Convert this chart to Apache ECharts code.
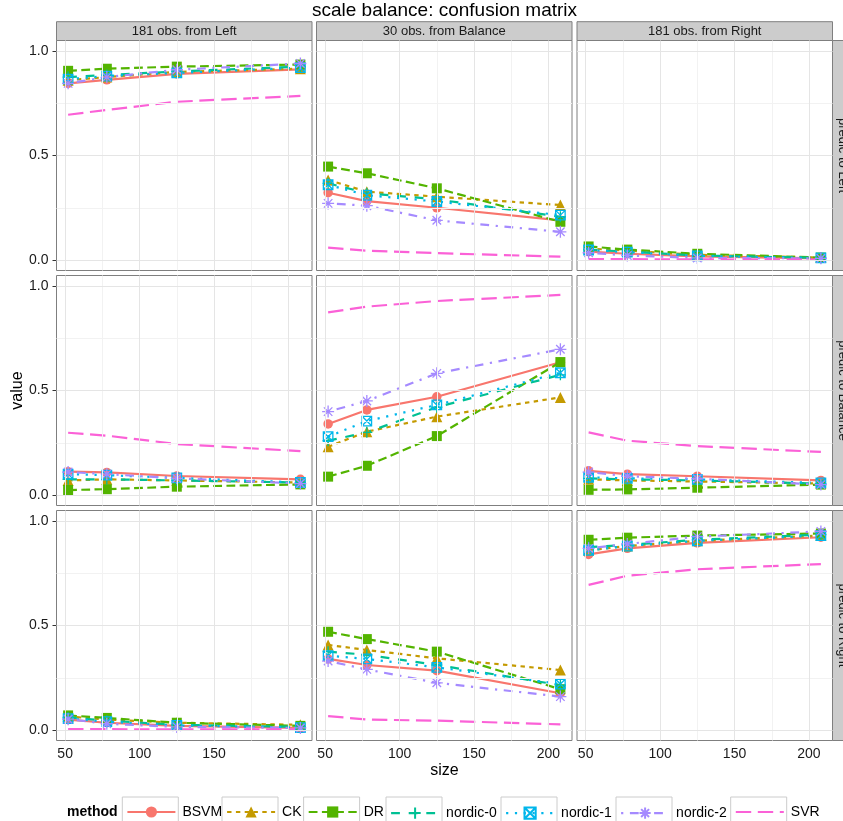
<!DOCTYPE html>
<html><head><meta charset="utf-8">
<script src="https://cdn.jsdelivr.net/npm/echarts@6/dist/echarts.min.js"></script>
<style>html,body{margin:0;padding:0;background:#fff}#c{width:843px;height:821px}</style>
</head><body><div id="c"></div>
<script>
// ---------- data ----------
const sizes = [52, 78, 125, 208];
const methods = ['BSVM', 'CK', 'DR', 'nordic-0', 'nordic-1', 'nordic-2', 'SVR'];
const colTitles = ['181 obs. from Left', '30 obs. from Balance', '181 obs. from Right'];
const rowTitles = ['predic to Left', 'predic to Balance', 'predic to Right'];
const xTicks = [50, 100, 150, 200];
const xMinor = [75, 125, 175];
const yTicks = [0, 0.5, 1];
const yMinor = [0.25, 0.75];

// rows of each array follow `methods` order; columns follow `sizes`
const leftFromLeft = [
  [0.845, 0.862, 0.890, 0.912],
  [0.860, 0.875, 0.900, 0.915],
  [0.905, 0.915, 0.925, 0.935],
  [0.875, 0.885, 0.902, 0.925],
  [0.865, 0.880, 0.895, 0.920],
  [0.845, 0.875, 0.910, 0.940],
  [0.695, 0.718, 0.757, 0.785]
];
const leftFromBalance = [
  [0.322, 0.282, 0.250, 0.190],
  [0.383, 0.327, 0.303, 0.263],
  [0.447, 0.415, 0.343, 0.183],
  [0.367, 0.320, 0.290, 0.207],
  [0.360, 0.310, 0.280, 0.215],
  [0.271, 0.260, 0.190, 0.135],
  [0.059, 0.045, 0.033, 0.016]
];
const leftFromRight = [
  [0.040, 0.030, 0.018, 0.008],
  [0.055, 0.045, 0.025, 0.012],
  [0.065, 0.050, 0.030, 0.012],
  [0.050, 0.040, 0.022, 0.010],
  [0.048, 0.038, 0.020, 0.010],
  [0.035, 0.022, 0.010, 0.008],
  [0.004, 0.004, 0.003, 0.002]
];
const balanceFromLeft = [
  [0.112, 0.108, 0.091, 0.075],
  [0.070, 0.075, 0.070, 0.060],
  [0.024, 0.028, 0.040, 0.051],
  [0.075, 0.075, 0.070, 0.060],
  [0.100, 0.095, 0.082, 0.060],
  [0.110, 0.100, 0.080, 0.055],
  [0.298, 0.284, 0.244, 0.210]
];
const balanceFromBalance = [
  [0.340, 0.407, 0.470, 0.635],
  [0.231, 0.303, 0.375, 0.467],
  [0.088, 0.140, 0.282, 0.636],
  [0.260, 0.300, 0.420, 0.575],
  [0.279, 0.354, 0.431, 0.585],
  [0.399, 0.450, 0.582, 0.697],
  [0.874, 0.901, 0.928, 0.957]
];
const balanceFromRight = [
  [0.116, 0.100, 0.090, 0.070],
  [0.075, 0.070, 0.065, 0.055],
  [0.025, 0.027, 0.035, 0.050],
  [0.080, 0.075, 0.070, 0.055],
  [0.085, 0.080, 0.075, 0.058],
  [0.110, 0.090, 0.078, 0.050],
  [0.300, 0.260, 0.234, 0.206]
];
const rightFromLeft = [
  [0.050, 0.035, 0.020, 0.010],
  [0.065, 0.050, 0.035, 0.025],
  [0.070, 0.058, 0.035, 0.020],
  [0.060, 0.045, 0.025, 0.015],
  [0.055, 0.040, 0.022, 0.012],
  [0.052, 0.030, 0.015, 0.010],
  [0.005, 0.004, 0.003, 0.003]
];
const rightFromBalance = [
  [0.340, 0.311, 0.284, 0.176],
  [0.407, 0.383, 0.343, 0.287],
  [0.470, 0.435, 0.375, 0.195],
  [0.375, 0.360, 0.311, 0.215],
  [0.356, 0.340, 0.300, 0.220],
  [0.330, 0.290, 0.226, 0.160],
  [0.067, 0.050, 0.045, 0.027]
];
const rightFromRight = [
  [0.840, 0.869, 0.895, 0.922],
  [0.860, 0.880, 0.905, 0.930],
  [0.910, 0.920, 0.930, 0.940],
  [0.875, 0.885, 0.910, 0.935],
  [0.860, 0.880, 0.905, 0.930],
  [0.869, 0.890, 0.925, 0.950],
  [0.694, 0.738, 0.769, 0.794]
];
const panels = [
  [leftFromLeft, leftFromBalance, leftFromRight],
  [balanceFromLeft, balanceFromBalance, balanceFromRight],
  [rightFromLeft, rightFromBalance, rightFromRight]
];

// ---------- styles ----------
const FONT = "'Liberation Sans', Arial, Helvetica, sans-serif";
const colors = ['#F8766D', '#C49A00', '#53B400', '#00C094', '#00B6EB', '#A58AFF', '#FB61D7'];
const LW = 2.2;
const dashes = ['solid', [4.4, 4.4], [8.8, 4.4], [8.8, 8.8], [2.2, 6.6], [2.2, 6.6, 8.8, 6.6], [15.4, 6.6]];
const symbols = ['circle', 'triangle', 'rect',
  'path://M5,0L5,10M0,5L10,5',
  'path://M0,0L10,0L10,10L0,10ZM0,0L10,10M10,0L0,10',
  'path://M5,0L5,10M0,5L10,5M1.46,1.46L8.54,8.54M8.54,1.46L1.46,8.54',
  'none'];
const symbolSizes = [9.5, 11, 10, 11, 9.5, 12, 0];
const filled = [true, true, true, false, false, false, true];

const L = [56.5, 316.5, 577], T = [40.5, 275.5, 510.5], W = 255.5, H = 230;
const XMIN = 44.2, XMAX = 215.8, YMIN = -0.05, YMAX = 1.05;

const grids = [], xAxes = [], yAxes = [], series = [];
for (let r = 0; r < 3; r++) {
  for (let c = 0; c < 3; c++) {
    const i = r * 3 + c;
    grids.push({left: L[c], top: T[r], width: W, height: H, show: true,
      backgroundColor: '#fff', borderColor: '#7F7F7F', borderWidth: 1,
      containLabel: false, outerBoundsMode: 'none'});
    const bottom = r === 2, leftCol = c === 0;
    xAxes.push({type: 'value', gridIndex: i, min: XMIN, max: XMAX,
      axisLine: {show: false}, splitLine: {show: false},
      axisTick: {show: bottom, customValues: xTicks, length: 4, lineStyle: {color: '#333', width: 1}},
      axisLabel: {show: bottom, customValues: xTicks, margin: 7, fontSize: 14, color: '#1a1a1a', fontFamily: FONT}});
    yAxes.push({type: 'value', gridIndex: i, min: YMIN, max: YMAX,
      axisLine: {show: false}, splitLine: {show: false},
      axisTick: {show: leftCol, customValues: yTicks, length: 4, lineStyle: {color: '#333', width: 1}},
      axisLabel: {show: leftCol, customValues: yTicks, margin: 8, fontSize: 14, color: '#1a1a1a', fontFamily: FONT,
        formatter: v => v.toFixed(1)}});
    // grid lines via markLine on an empty helper series
    const ml = [];
    xMinor.forEach(v => ml.push({xAxis: v, lineStyle: {color: '#F2F2F2', width: 1, type: 'solid'}}));
    yMinor.forEach(v => ml.push({yAxis: v, lineStyle: {color: '#F2F2F2', width: 1, type: 'solid'}}));
    xTicks.forEach(v => ml.push({xAxis: v, lineStyle: {color: '#E5E5E5', width: 1, type: 'solid'}}));
    yTicks.forEach(v => ml.push({yAxis: v, lineStyle: {color: '#E5E5E5', width: 1, type: 'solid'}}));
    series.push({type: 'line', name: '__grid' + i, xAxisIndex: i, yAxisIndex: i, data: [], silent: true,
      animation: false, z: 1,
      markLine: {silent: true, symbol: ['none', 'none'], label: {show: false}, animation: false, data: ml}});
    const tbl = panels[r][c];
    methods.forEach((m, k) => {
      series.push({
        type: 'line', name: m, xAxisIndex: i, yAxisIndex: i,
        data: sizes.map((s, j) => [s, tbl[k][j]]),
        symbol: symbols[k], symbolSize: symbolSizes[k], showSymbol: symbols[k] !== 'none',
        lineStyle: {color: colors[k], width: LW, type: dashes[k], cap: 'butt'},
        itemStyle: filled[k] ? {color: colors[k]} : {color: 'none', borderColor: colors[k], borderWidth: 1.3},
        emphasis: {disabled: true}, silent: true, animation: false, z: 2
      });
    });
  }
}

// legend: one component per method so that it matches the key boxes
const legendBoxLeft = [122.3, 222, 303.6, 386, 501, 616, 730.7];
const legends = methods.map((m, k) => {
  const lg = {
    show: true, data: [m], left: legendBoxLeft[k] + 4, top: 805, padding: 0,
    itemWidth: 48, itemHeight: 14, selectedMode: false,
    lineStyle: {width: LW},
    textStyle: {fontSize: 14, color: '#000', fontFamily: FONT, padding: [0, 0, 0, 2]}
  };
  if (symbols[k] === 'none') lg.itemStyle = {opacity: 0};
  return lg;
});

const graphics = [];
// legend key boxes
legendBoxLeft.forEach(x => graphics.push({type: 'rect', z: -1,
  shape: {x: x, y: 797, width: 56, height: 31}, style: {fill: '#fff', stroke: '#CCCCCC', lineWidth: 1}}));
graphics.push({type: 'text', x: 67, y: 812, style: {text: 'method', font: 'bold 14px ' + FONT,
  fill: '#000', textAlign: 'left', textVerticalAlign: 'middle'}});
// strips
colTitles.forEach((t, c) => {
  graphics.push({type: 'rect', shape: {x: L[c], y: 21.7, width: W, height: 18.8},
    style: {fill: '#CCCCCC', stroke: '#7F7F7F', lineWidth: 1}});
  graphics.push({type: 'text', x: L[c] + W / 2, y: 31.2, style: {text: t, font: '13px ' + FONT,
    fill: '#1a1a1a', textAlign: 'center', textVerticalAlign: 'middle'}});
});
rowTitles.forEach((t, r) => {
  graphics.push({type: 'rect', shape: {x: L[2] + W, y: T[r], width: 18.8, height: H},
    style: {fill: '#CCCCCC', stroke: '#7F7F7F', lineWidth: 1}});
  graphics.push({type: 'text', x: L[2] + W + 9.6, y: T[r] + H / 2, rotation: -Math.PI / 2,
    style: {text: t, font: '13px ' + FONT, fill: '#1a1a1a', textAlign: 'center', textVerticalAlign: 'middle'}});
});
// title and axis titles
graphics.push({type: 'text', x: 444.5, y: 11, style: {text: 'scale balance: confusion matrix',
  font: '19px ' + FONT, fill: '#000', textAlign: 'center', textVerticalAlign: 'middle'}});
graphics.push({type: 'text', x: 444.5, y: 771, style: {text: 'size', font: '16px ' + FONT,
  fill: '#000', textAlign: 'center', textVerticalAlign: 'middle'}});
graphics.push({type: 'text', x: 18, y: 390.5, rotation: Math.PI / 2, style: {text: 'value', font: '16px ' + FONT,
  fill: '#000', textAlign: 'center', textVerticalAlign: 'middle'}});

const chart = echarts.init(document.getElementById('c'), null, {renderer: 'canvas'});
chart.setOption({
  animation: false,
  backgroundColor: '#fff',
  grid: grids, xAxis: xAxes, yAxis: yAxes,
  legend: legends,
  series: series,
  graphic: graphics
});
</script>
</body></html>
